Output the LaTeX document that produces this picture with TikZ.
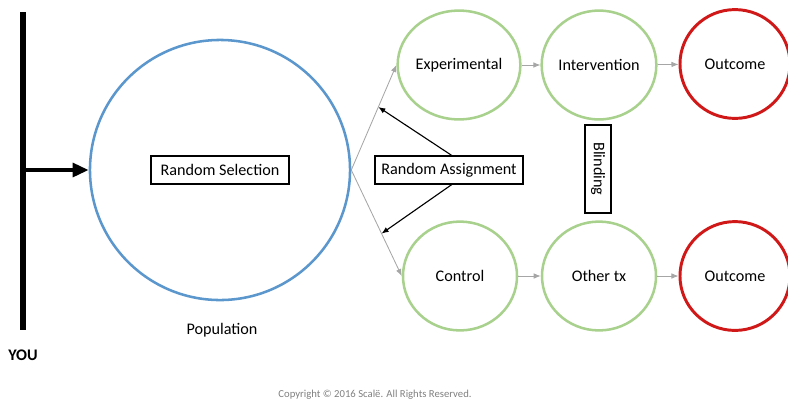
\documentclass[tikz,border=0pt]{standalone}
\usepackage{fontspec}
\setmainfont{Carlito}
\usepackage{tikz}
\usetikzlibrary{arrows.meta,positioning,shapes.geometric,calc}
\definecolor{popBlue}{HTML}{5B96CC}
\definecolor{armGreen}{HTML}{A9D18E}
\definecolor{endRed}{HTML}{D01818}
\definecolor{linkGrey}{HTML}{A6A6A6}
\definecolor{noteGrey}{HTML}{808080}

\begin{document}
\begin{tikzpicture}[x=0.025cm,y=-0.025cm,
    font=\fontsize{11.5}{13}\selectfont,
    armnode/.style={ellipse,draw=armGreen,line width=1.8pt,minimum width=2.85cm,minimum height=2.72cm,inner sep=0pt},
    endnode/.style={ellipse,draw=endRed,line width=2.1pt,minimum width=2.75cm,minimum height=2.72cm,inner sep=0pt},
    labelbox/.style={draw,line width=1.3pt,minimum height=0.68cm,inner sep=2pt},
    greylink/.style={draw=linkGrey,line width=0.6pt,-{Latex[length=5pt,width=4pt]}},
    blacklink/.style={line width=0.8pt,-{Latex[length=5pt,width=4pt]}}]
  \useasboundingbox (0,0) rectangle (788,403);
  % the observer
  \coordinate (youTop) at (23,12);
  \coordinate (youBot) at (23,330);
  \coordinate (youMid) at (23,170);
  \draw[line width=3.6pt] (youTop) -- (youBot);
  \node[font=\fontsize{11.5}{13}\selectfont\bfseries] (you) at (23,355) {YOU};
  % population and sampling
  \node[circle,draw=popBlue,line width=1.8pt,minimum size=6.5cm,inner sep=0pt] (pop) at (220,170) {};
  \node[labelbox,minimum width=3.43cm] (sel) at (220,170) {Random Selection};
  \node (popname) at (222,330) {Population};
  \draw[line width=2.8pt,-{Triangle[length=0.4cm,width=0.34cm]}] (youMid) -- (pop.west);
  % the two arms
  \node[armnode] (exp) at (459,65) {Experimental};
  \node[armnode] (intv) at (599,65) {Intervention};
  \node[endnode] (outA) at (735,64) {Outcome};
  \node[armnode] (ctl) at (460,276) {Control};
  \node[armnode] (other) at (599,276) {Other tx};
  \node[endnode] (outB) at (735,276) {Outcome};
  \draw[greylink] (pop.east) -- (exp.west);
  \draw[greylink] (pop.east) -- (ctl.west);
  \draw[greylink] (exp) -- (intv);
  \draw[greylink] (intv) -- (outA);
  \draw[greylink] (ctl) -- (other);
  \draw[greylink] (other) -- (outB);
  % assignment and blinding
  \node[labelbox,minimum width=3.7cm] (assign) at (449,170) {Random Assignment};
  \coordinate (hitA) at ($(pop.east)!0.6!(exp.west)$);
  \coordinate (hitB) at ($(pop.east)!0.6!(ctl.west)$);
  \draw[blacklink] ([xshift=2pt]assign.north) -- (hitA);
  \draw[blacklink] ([xshift=2pt]assign.south) -- (hitB);
  \node[labelbox,rotate=-90,minimum width=2.2cm,minimum height=0.65cm] (blind) at (598,169) {Blinding};
  \node[text=noteGrey,font=\fontsize{7.6}{9}\selectfont] (copy) at (375,395) {Copyright \textcopyright{} 2016 Scalë. All Rights Reserved.};
\end{tikzpicture}
\end{document}
